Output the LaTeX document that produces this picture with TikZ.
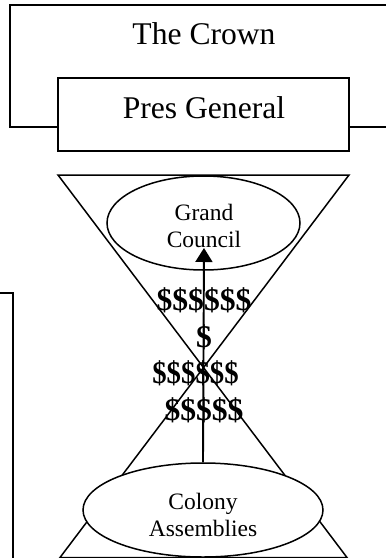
\documentclass[tikz,border=0pt]{standalone}
\usepackage{fontspec}
\setmainfont{Liberation Serif}
\usetikzlibrary{shapes.geometric,arrows.meta}
\begin{document}
\begin{tikzpicture}[x=1pt,y=-1pt,
  line/.style={line width=1.5pt},
  frame/.style={line, draw, fill=white, inner sep=0pt},
  oval/.style={ellipse, line, draw, fill=white, inner sep=0pt},
  big/.style={font=\fontsize{31.6}{36}\selectfont, inner sep=0pt},
  small/.style={font=\fontsize{23.5}{27}\selectfont, align=center, inner sep=0pt},
  money/.style={font=\fontsize{31.6}{36}\bfseries\selectfont, inner sep=0pt},
  flow/.style={line width=1.9pt, -{Triangle[width=17pt,length=14pt]}}]
\useasboundingbox (0,0) rectangle (386,558);

% outer frame of the Crown, running off to the right
\draw[line] (400,5) -- (10,5) -- (10,127) -- (400,127);
\node[big] (crown) at (204,34) {The Crown};

% President General box
\node[frame, minimum width=291pt, minimum height=73pt] (presbox) at (203.5,114.5) {};
\node[big] (pres) at (204,108) {Pres General};

% frame at the left edge
\draw[line] (-5,293) -- (13,293) -- (13,565);

% money flowing upward
\node[money] (m1) at (204,300) {\$\$\$\$\$\$};
\node[money] (m2) at (204,337) {\$};
\node[money, xscale=0.91] (m3) at (195.5,373) {\$\$\$\$\$\$};
\node[money] (m4) at (204,410) {\$\$\$\$\$};

% hourglass
\draw[line] (58,175) -- (349,175) -- (60,557.5) -- (347,557.5) -- cycle;

% councils
\node[oval, minimum width=193pt, minimum height=94pt] (grand) at (203.5,223) {};
\node[small] (grandtxt) at (204,226) {Grand\\Council};
\node[oval, minimum width=240pt, minimum height=94pt] (colony) at (203,510) {};
\node[small] (colonytxt) at (203,515) {Colony\\Assemblies};

% upward arrow
\coordinate (tip) at (204,248);
\draw[flow] (colony.north) -- (tip);
\end{tikzpicture}
\end{document}
